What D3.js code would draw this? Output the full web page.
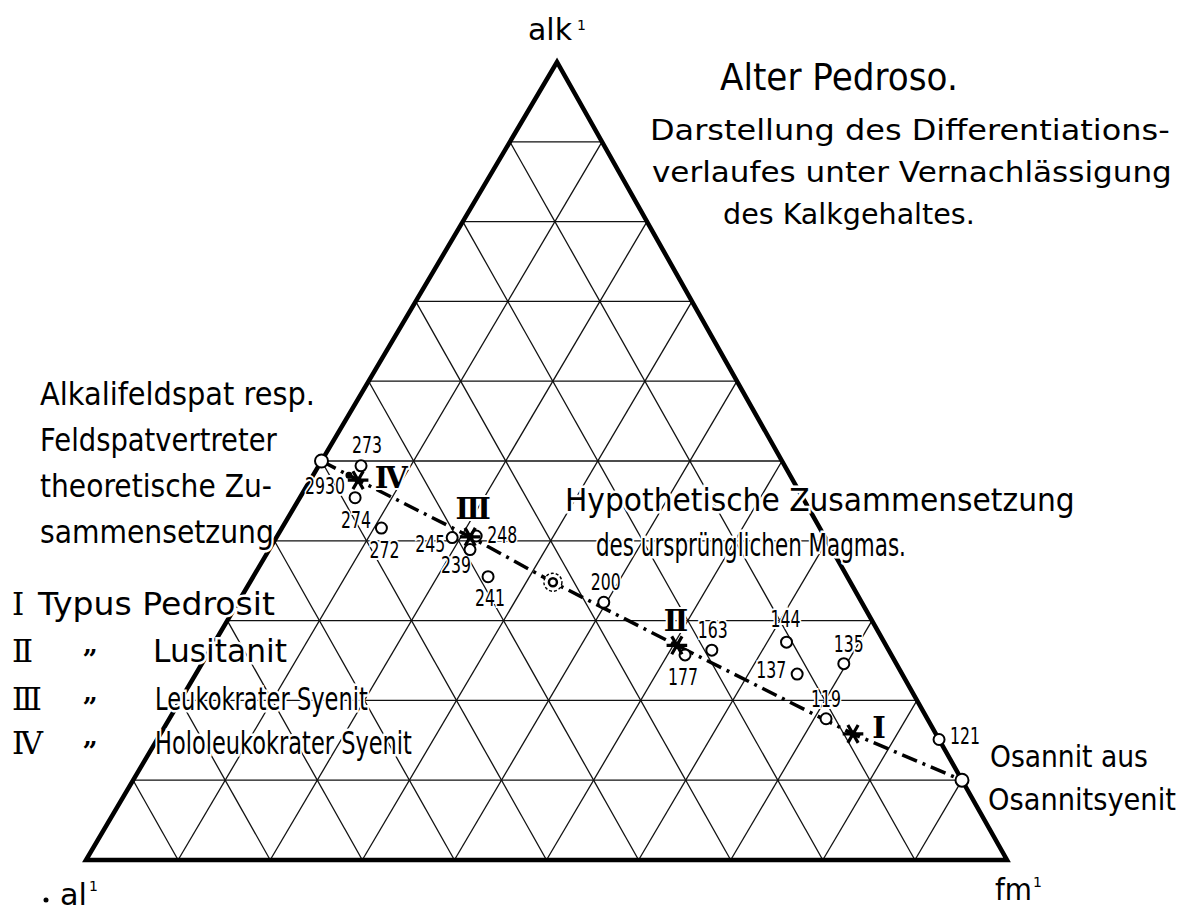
<!DOCTYPE html>
<html>
<head>
<meta charset="utf-8">
<script src="https://cdn.jsdelivr.net/npm/d3@7"></script>
<style>body{margin:0;background:#fff}</style>
</head>
<body>
<script>
// analyses, plotted as al' / fm' / alk' (percent, c neglected)
const sampleNo  = ["273", "2930", "274", "272", "245", "248", "239", "241", "200", "163", "177", "144", "137", "135", "119", "121"]
const sampleAl  = [46.0, 47.9, 48.6, 47.6, 40.5, 37.8, 39.3, 39.0, 28.0, 19.2, 22.4, 10.6, 11.4, 5.7, 11.0, 0.0]
const sampleFm  = [4.6, 3.9, 6.0, 10.8, 19.1, 21.6, 21.8, 25.5, 39.7, 54.5, 51.9, 62.1, 65.3, 69.7, 71.3, 84.9]
const sampleAlk = [49.4, 48.2, 45.4, 41.6, 40.4, 40.6, 38.9, 35.5, 32.3, 26.3, 25.7, 27.3, 23.3, 24.6, 17.7, 15.1]

// magma types I - IV
const typeNo  = ["Ⅰ", "Ⅱ", "Ⅲ", "Ⅳ"]
const typeAl  = [9.0, 22.7, 38.5, 47.2]
const typeFm  = [75.2, 50.4, 21.0, 5.2]
const typeAlk = [15.8, 26.9, 40.5, 47.6]

// end members and the hypothetical parent magma: [al, fm, alk]
const feldspar = [50, 0, 50]
const osannit  = [0, 90, 10]
const magma    = [32.3, 32.9, 34.8]

const gridTicks = [10, 20, 30, 40, 50, 60, 70, 80, 90]

// label placement (layout only)
const labelPos = {
  "273": [6, -13, "middle"], "2930": [-4, 19, "end"], "274": [1, 30, "middle"], "272": [3, 30, "middle"],
  "245": [-7, 14, "end"], "248": [11, 7, "start"], "239": [-14, 23, "middle"], "241": [2, 29, "middle"],
  "200": [2, -12, "middle"], "163": [1, -12, "middle"], "177": [-2, 30, "middle"], "144": [-1, -15, "middle"],
  "137": [-11, 4, "end"], "135": [5, -12, "middle"], "119": [0, -12, "middle"], "121": [11, 4, "start"]
}
const typeLabelPos = [[26, 4, "middle"], [-1, -14, "middle"], [3, -18, "middle"], [33, 8, "middle"]]

const W = 1190, H = 912
const FONT = "'DejaVu Sans',sans-serif"
const SERIF = "'DejaVu Serif','Liberation Serif',serif"

const svg = d3.select("body").append("svg").attr("width", W).attr("height", H)
svg.append("rect").attr("width", W).attr("height", H).attr("fill", "#fff")

// ternary projection: al' bottom left, fm' bottom right, alk' top
const left = 86
const alkY = d3.scaleLinear().domain([0, 100]).range([860, 62])
const fmX = d3.scaleLinear().domain([0, 100]).range([0, 921])
const alkX = d3.scaleLinear().domain([0, 100]).range([0, 471])
const pt = (al, fm, alk) => [left + fmX(fm) + alkX(alk), alkY(alk)]

// grid
const grid = []
gridTicks.forEach(t => {
  grid.push([pt(100 - t, 0, t), pt(0, 100 - t, t)])
  grid.push([pt(100 - t, t, 0), pt(0, t, 100 - t)])
  grid.push([pt(t, 100 - t, 0), pt(t, 0, 100 - t)])
})
svg.append("g").selectAll("line").data(grid).join("line")
  .attr("x1", d => d[0][0]).attr("y1", d => d[0][1])
  .attr("x2", d => d[1][0]).attr("y2", d => d[1][1])
  .attr("stroke", "#111").attr("stroke-width", 1.3)

// outline
svg.append("path")
  .attr("d", d3.line()([pt(100, 0, 0), pt(0, 100, 0), pt(0, 0, 100)]) + "Z")
  .attr("fill", "none").attr("stroke", "#000").attr("stroke-width", 4.5)
  .attr("stroke-linejoin", "miter")

// differentiation trend
const trend = [feldspar, [typeAl[3], typeFm[3], typeAlk[3]], [typeAl[2], typeFm[2], typeAlk[2]], magma,
  [typeAl[1], typeFm[1], typeAlk[1]], [typeAl[0], typeFm[0], typeAlk[0]], osannit]
svg.append("path")
  .attr("d", d3.line()(trend.map(d => pt(d[0], d[1], d[2]))))
  .attr("fill", "none").attr("stroke", "#000").attr("stroke-width", 3.5)
  .attr("stroke-dasharray", "16,6,3,6").attr("stroke-linecap", "butt")

// text squeezed horizontally to the width of the hand lettering
function txt(s, x, y, size, w) {
  const t = svg.append("text").attr("x", 0).attr("y", 0).text(s)
    .attr("font-family", FONT).attr("font-size", size).attr("fill", "#000")
    .attr("stroke", "#fff").attr("stroke-width", 5).attr("paint-order", "stroke")
  const len = t.node().getComputedTextLength()
  const sx = w && len ? w / len : 1
  t.attr("transform", `translate(${x},${y}) scale(${sx},1)`)
  return t
}

// header
txt("Alter Pedroso.", 720, 90, 37, 238)
txt("Darstellung des Differentiations-", 650, 140, 29, 520)
txt("verlaufes unter Vernachlässigung", 652, 182, 29, 520)
txt("des Kalkgehaltes.", 723, 224, 29, 252)

// corner names
txt("alk", 528, 40, 30, 44)
svg.append("text").attr("x", 577).attr("y", 30).text("1").attr("font-family", FONT).attr("font-size", 14)
txt("al", 60, 905, 30, 27)
svg.append("text").attr("x", 89).attr("y", 891).text("1").attr("font-family", FONT).attr("font-size", 14)
svg.append("circle").attr("cx", 46).attr("cy", 900).attr("r", 2.5).attr("fill", "#000")
txt("fm", 995, 900, 30, 37)
svg.append("text").attr("x", 1033).attr("y", 887).text("1").attr("font-family", FONT).attr("font-size", 14)

// notes
txt("Alkalifeldspat resp.", 40, 405, 32, 275)
txt("Feldspatvertreter", 40, 451, 32, 237)
txt("theoretische Zu-", 40, 497, 32, 232)
txt("sammensetzung", 40, 543, 32, 234)
txt("Hypothetische Zusammensetzung", 565, 511, 32, 510)
txt("des ursprünglichen Magmas.", 596, 556, 32, 310)
txt("Osannit aus", 990, 767, 31, 158)
txt("Osannitsyenit", 988, 810, 31, 188)

// legend
const legendText = ["Typus Pedrosit", "Lusitanit", "Leukokrater Syenit", "Hololeukokrater Syenit"]
const legendX = [38, 153, 155, 155]
const legendW = [237, 134, 213, 257]
const legendY = [615, 662, 710, 754]
legendText.forEach((s, i) => {
  svg.append("text").attr("x", 12).attr("y", legendY[i]).text(typeNo[i])
    .attr("font-family", SERIF).attr("font-size", 31).attr("fill", "#000")
  if (i > 0) svg.append("text").attr("x", 90).attr("y", legendY[i] + 6).text("\u201D")
    .attr("text-anchor", "middle").attr("font-family", SERIF).attr("font-size", 26).attr("font-weight", "bold")
  txt(s, legendX[i], legendY[i], 32, legendW[i])
})

// sample labels
sampleNo.forEach((n, i) => {
  const p = pt(sampleAl[i], sampleFm[i], sampleAlk[i])
  const o = labelPos[n]
  svg.append("text").attr("x", p[0] + o[0]).attr("y", p[1] + o[1]).text(n)
    .attr("text-anchor", o[2]).attr("font-family", FONT).attr("font-size", 23)
    .attr("textLength", n.length * 10).attr("lengthAdjust", "spacingAndGlyphs")
    .attr("stroke", "#fff").attr("stroke-width", 4).attr("paint-order", "stroke")
})

// type labels
typeNo.forEach((n, i) => {
  const p = pt(typeAl[i], typeFm[i], typeAlk[i])
  const o = typeLabelPos[i]
  svg.append("text").attr("x", p[0] + o[0]).attr("y", p[1] + o[1]).text(n)
    .attr("text-anchor", o[2]).attr("font-family", SERIF).attr("font-size", 29).attr("font-weight", "bold")
    .attr("stroke", "#fff").attr("stroke-width", 4).attr("paint-order", "stroke")
})

// sample points
svg.append("g").selectAll("circle").data(sampleNo).join("circle")
  .attr("cx", (d, i) => pt(sampleAl[i], sampleFm[i], sampleAlk[i])[0])
  .attr("cy", (d, i) => pt(sampleAl[i], sampleFm[i], sampleAlk[i])[1])
  .attr("r", d => d === "2930" ? 2.5 : 5.5)
  .attr("fill", d => d === "2930" ? "#000" : "#fff")
  .attr("stroke", "#000").attr("stroke-width", 2)

// end members
;[feldspar, osannit].forEach(d => {
  const p = pt(d[0], d[1], d[2])
  svg.append("circle").attr("cx", p[0]).attr("cy", p[1]).attr("r", 6.5)
    .attr("fill", "#fff").attr("stroke", "#000").attr("stroke-width", 2)
})

// hypothetical magma
const mp = pt(magma[0], magma[1], magma[2])
svg.append("circle").attr("cx", mp[0]).attr("cy", mp[1]).attr("r", 9)
  .attr("fill", "#fff").attr("stroke", "#000").attr("stroke-width", 1.4).attr("stroke-dasharray", "3,2")
svg.append("circle").attr("cx", mp[0]).attr("cy", mp[1]).attr("r", 4)
  .attr("fill", "#fff").attr("stroke", "#000").attr("stroke-width", 2.5)

// type stars
const star = d3.symbol().type(d3.symbolAsterisk || d3.symbolCross).size(300)
typeNo.forEach((n, i) => {
  const p = pt(typeAl[i], typeFm[i], typeAlk[i])
  svg.append("path").attr("d", star()).attr("transform", `translate(${p[0]},${p[1]}) rotate(90)`)
    .attr("fill", "none").attr("stroke", "#000").attr("stroke-width", 3.2)
  svg.append("circle").attr("cx", p[0]).attr("cy", p[1]).attr("r", 3.5).attr("fill", "#000")
})
</script>
</body>
</html>
